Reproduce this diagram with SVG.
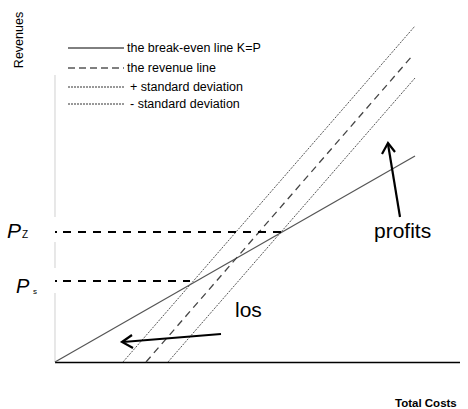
<svg xmlns="http://www.w3.org/2000/svg" width="468" height="409" viewBox="0 0 468 409">
<style>
.t{font-family:"Liberation Sans",Arial,sans-serif;fill:#000}
.leg{font-size:12.5px}
.big{font-size:21px}
.axis{stroke:#000;stroke-width:1.5}
.yaxis{stroke:#d8d8d8;stroke-width:1.2}
.be{stroke:#555;stroke-width:1.2;fill:none}
.rev{stroke:#444;stroke-width:1.3;stroke-dasharray:7,5;fill:none}
.sd{stroke:#555;stroke-width:1;stroke-dasharray:2,1.2;fill:none}
.hd{stroke:#000;stroke-width:2;fill:none;stroke-dasharray:8,7}
.arr{stroke:#000;stroke-width:2.2;fill:none}
</style>
<rect width="468" height="409" fill="#fff"/>
<g id="axes">
<line class="yaxis" x1="55" y1="75" x2="55" y2="217"/>
<line class="yaxis" x1="55" y1="242" x2="55" y2="268"/>
<line class="yaxis" x1="55" y1="293" x2="55" y2="362"/>
<line class="axis" x1="55" y1="362.5" x2="460" y2="362.5"/>
<text class="t" font-size="12.5" transform="translate(23,40) rotate(-90)" text-anchor="middle">Revenues</text>
<text class="t" font-size="11.5" font-weight="bold" x="395" y="407">Total Costs</text>
</g>
<g id="legend">
<line x1="68" y1="48" x2="124" y2="48" stroke="#000" stroke-width="1"/>
<line x1="68" y1="68" x2="124" y2="68" stroke="#000" stroke-width="1" stroke-dasharray="7,4"/>
<line x1="68" y1="87" x2="125" y2="87" stroke="#333" stroke-width="1" stroke-dasharray="2,1"/>
<line x1="68" y1="104" x2="125" y2="104" stroke="#333" stroke-width="1" stroke-dasharray="2,1"/>
<text class="t leg" x="127" y="52">the break-even line K=P</text>
<text class="t leg" x="127" y="72">the revenue line</text>
<text class="t leg" x="130" y="91">+ standard deviation</text>
<text class="t leg" x="130" y="108">- standard deviation</text>
</g>
<g id="connectors">
<line class="be" x1="55" y1="362" x2="415" y2="156"/>
<line class="rev" x1="146" y1="362" x2="413" y2="55"/>
<line class="sd" x1="123" y1="362" x2="415" y2="26"/>
<line class="sd" x1="168" y1="362" x2="415" y2="78"/>
<line x1="55" y1="232" x2="57" y2="232" stroke="#000" stroke-width="2"/>
<line class="hd" x1="63" y1="232" x2="283" y2="232"/>
<line x1="55" y1="281" x2="57" y2="281" stroke="#000" stroke-width="2"/>
<line class="hd" x1="63" y1="281" x2="190" y2="281"/>
<line class="arr" x1="400" y1="217" x2="388" y2="144"/>
<polyline class="arr" points="382,154 388,143 395,152"/>
<line class="arr" x1="221" y1="334" x2="123" y2="342"/>
<polyline class="arr" points="132,335 122,342 133,348"/>
</g>
<g id="labels">
<text class="t" font-size="21" font-style="italic" x="7" y="238">P</text>
<text class="t" font-size="10" x="22" y="238">Z</text>
<text class="t" font-size="20" font-style="italic" x="16" y="293">P</text>
<text class="t" font-size="8" x="33" y="294">s</text>
<text class="t big" x="374" y="238">profits</text>
<text class="t big" x="235" y="317">los</text>
</g>
</svg>
